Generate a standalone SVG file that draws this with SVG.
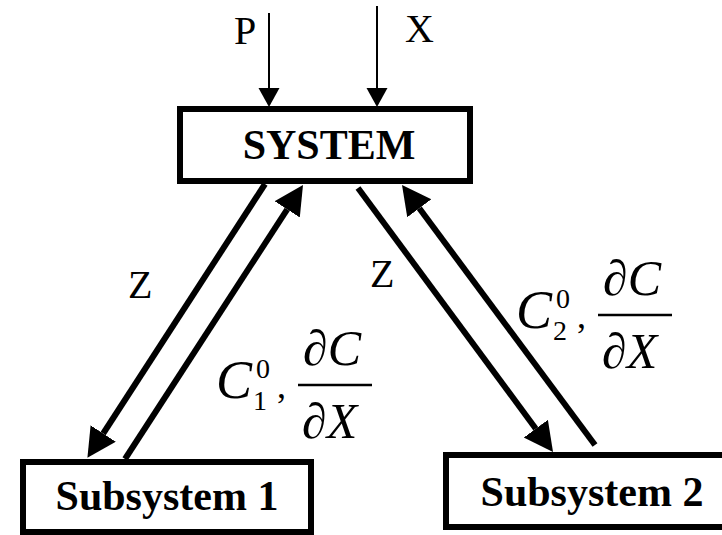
<svg xmlns="http://www.w3.org/2000/svg" width="722" height="535" viewBox="0 0 722 535">
<style>
.box{fill:#fff;stroke:#000;stroke-width:6}
.title{font-family:"Liberation Serif","Times New Roman",serif;font-weight:bold;font-size:42px;fill:#000}
.lbl{font-family:"Liberation Serif","Times New Roman",serif;font-size:40px;fill:#000}
.math{font-family:"Liberation Serif","Times New Roman",serif;fill:#000}
.it{font-style:italic}
.thick{stroke:#000;stroke-width:6;fill:none}
.thin{stroke:#000;stroke-width:2;fill:none}
</style>
<defs>
<marker id="bigHead" markerUnits="userSpaceOnUse" markerWidth="32" markerHeight="32" refX="0" refY="15" orient="auto" viewBox="0 0 32 32">
<path d="M0,0 L29,15 L0,30 Z" fill="#000"/>
</marker>
<marker id="smallHead" markerUnits="userSpaceOnUse" markerWidth="22" markerHeight="22" refX="0" refY="10.5" orient="auto" viewBox="0 0 22 22">
<path d="M0,0 L19,10.5 L0,21 Z" fill="#000"/>
</marker>
</defs>
<rect width="722" height="535" fill="#fff"/>
<g id="connectors">
<line class="thin" x1="269" y1="13" x2="269" y2="88" marker-end="url(#smallHead)"/>
<line class="thin" x1="377" y1="6" x2="377" y2="88" marker-end="url(#smallHead)"/>
<line class="thick" x1="265" y1="184" x2="103.2" y2="433.5" marker-end="url(#bigHead)"/>
<line class="thick" x1="125" y1="459" x2="287.2" y2="209.3" marker-end="url(#bigHead)"/>
<line class="thick" x1="358" y1="188" x2="535.8" y2="428.7" marker-end="url(#bigHead)"/>
<line class="thick" x1="595" y1="445" x2="419.3" y2="208.3" marker-end="url(#bigHead)"/>
<text class="lbl" x="234" y="44">P</text>
<text class="lbl" x="405" y="42">X</text>
<text class="lbl" x="128" y="298">Z</text>
<text class="lbl" x="370" y="287">Z</text>
<g id="label-c1">
<text class="math it" x="216" y="398" font-size="54">C</text>
<text class="math" x="256" y="378" font-size="28">0</text>
<text class="math" x="253" y="410" font-size="28">1</text>
<text class="math" x="277" y="398" font-size="36">,</text>
<text class="math" x="303" y="365" font-size="50">∂<tspan class="it">C</tspan></text>
<line x1="298" y1="385" x2="372" y2="385" stroke="#000" stroke-width="2.5"/>
<text class="math" x="302" y="438" font-size="50">∂<tspan class="it">X</tspan></text>
</g>
<g id="label-c2">
<text class="math it" x="516" y="328" font-size="54">C</text>
<text class="math" x="556" y="308" font-size="28">0</text>
<text class="math" x="553" y="340" font-size="28">2</text>
<text class="math" x="577" y="328" font-size="36">,</text>
<text class="math" x="603" y="295" font-size="50">∂<tspan class="it">C</tspan></text>
<line x1="598" y1="315" x2="672" y2="315" stroke="#000" stroke-width="2.5"/>
<text class="math" x="602" y="368" font-size="50">∂<tspan class="it">X</tspan></text>
</g>
</g>
<g id="system">
<rect class="box" x="180" y="109" width="290" height="72"/>
<text class="title" x="329" y="159" text-anchor="middle">SYSTEM</text>
</g>
<g id="subsystem1">
<rect class="box" x="23" y="462" width="288" height="70"/>
<text class="title" x="167" y="510" text-anchor="middle">Subsystem 1</text>
</g>
<g id="subsystem2">
<rect class="box" x="446" y="455" width="284" height="72"/>
<text class="title" x="592" y="506" text-anchor="middle">Subsystem 2</text>
</g>
</svg>
